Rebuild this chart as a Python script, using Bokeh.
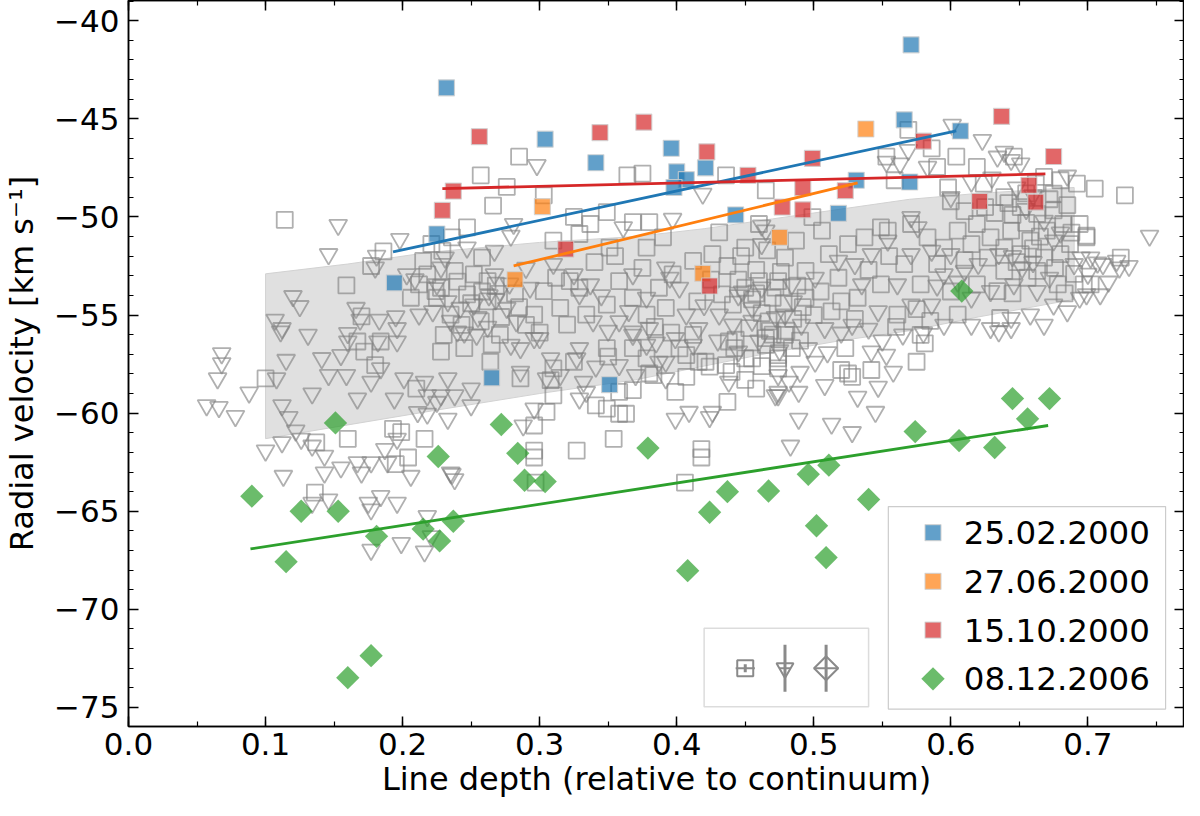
import numpy as np
from bokeh.core.properties import value
from bokeh.plotting import figure
from bokeh.models import (Range1d, LinearAxis, SingleIntervalTicker, CustomJSTickFormatter,
                          BoxAnnotation)
from bokeh.embed import file_html
from bokeh.resources import INLINE

# ---- data ---------------------------------------------------------------
# grey comparison sample: open squares (line depth, RV)
grey_squares = [
    (0.114, -50.15), (0.159, -53.49), (0.186, -51.76), (0.177, -52.5), (0.215, -52.24), (0.221, -51.38),
    (0.218, -52.93), (0.206, -54.12), (0.224, -53.78), (0.212, -53.44), (0.170, -55.07), (0.225, -54.12),
    (0.100, -58.23), (0.137, -61.49), (0.136, -64.05), (0.160, -61.31), (0.193, -60.8), (0.199, -60.97),
    (0.204, -62.26), (0.195, -62.6), (0.216, -61.31), (0.210, -58.75), (0.228, -56.86), (0.184, -56.35),
    (0.172, -56.86), (0.180, -57.55), (0.167, -56.35),
    (0.285, -46.93), (0.257, -47.88), (0.276, -48.47), (0.266, -49.42), (0.303, -48.9), (0.325, -50.0),
    (0.337, -50.36), (0.349, -49.76), (0.364, -47.88), (0.375, -47.79), (0.368, -50.27), (0.380, -50.27),
    (0.390, -51.04), (0.436, -47.88), (0.465, -48.65), (0.431, -50.79), (0.450, -51.56), (0.460, -50.36),
    (0.378, -51.56), (0.351, -51.56), (0.329, -50.87), (0.310, -51.21), (0.247, -50.53), (0.236, -51.04),
    (0.229, -51.73), (0.258, -52.07),
    (0.238, -52.75), (0.252, -52.93), (0.262, -53.27), (0.228, -53.61), (0.247, -53.95), (0.235, -54.98),
    (0.257, -55.32), (0.230, -56.01), (0.245, -56.69), (0.271, -56.01), (0.303, -53.78), (0.296, -54.98),
    (0.315, -54.64), (0.322, -53.27), (0.329, -53.61), (0.320, -55.49), (0.334, -54.98), (0.349, -54.47),
    (0.358, -53.27), (0.368, -54.12), (0.378, -54.98), (0.387, -53.61), (0.392, -54.64), (0.397, -52.93),
    (0.412, -52.24), (0.426, -51.9), (0.433, -53.95), (0.441, -54.47), (0.450, -53.61), (0.460, -53.27),
    (0.470, -54.12), (0.467, -55.32), (0.453, -55.67), (0.438, -56.35), (0.412, -56.01), (0.407, -57.04),
    (0.421, -57.38), (0.436, -57.55), (0.450, -57.21), (0.368, -56.69), (0.378, -57.21), (0.349, -56.69),
    (0.325, -57.38), (0.310, -57.72), (0.264, -57.38), (0.286, -58.23), (0.465, -56.52), (0.474, -57.04),
    (0.308, -58.32), (0.310, -59.09), (0.350, -57.12), (0.358, -58.92), (0.368, -58.83), (0.341, -59.6),
    (0.349, -59.77), (0.358, -60.03), (0.363, -60.03), (0.305, -59.94), (0.296, -60.63), (0.296, -61.91),
    (0.296, -62.26), (0.297, -63.54), (0.327, -61.91), (0.354, -61.31), (0.380, -57.98), (0.383, -58.06),
    (0.399, -58.92), (0.407, -58.15), (0.416, -57.38), (0.424, -57.63), (0.437, -59.43), (0.458, -58.75),
    (0.474, -57.72), (0.455, -57.21), (0.442, -56.69), (0.418, -61.83), (0.418, -62.26), (0.406, -63.54),
    (0.443, -56.26), (0.465, -56.18),
    (0.569, -45.56), (0.586, -46.51), (0.604, -46.93), (0.590, -47.45), (0.619, -47.45), (0.646, -46.93),
    (0.553, -46.93), (0.559, -48.13), (0.705, -48.56), (0.727, -48.9), (0.692, -48.3), (0.680, -48.13),
    (0.675, -48.82), (0.668, -47.96),
    (0.624, -48.3), (0.639, -48.99), (0.651, -49.5), (0.663, -49.84), (0.675, -49.67), (0.682, -50.36),
    (0.670, -50.7), (0.658, -51.21), (0.644, -50.7), (0.629, -51.04), (0.619, -50.36), (0.639, -51.56),
    (0.651, -51.9), (0.668, -52.07), (0.680, -51.9), (0.687, -51.39), (0.699, -51.04), (0.702, -53.44),
    (0.694, -50.36), (0.663, -52.75), (0.639, -52.75), (0.627, -52.07), (0.615, -51.39), (0.605, -50.7),
    (0.595, -51.56), (0.583, -51.04), (0.571, -50.36), (0.554, -50.7), (0.549, -50.53), (0.537, -51.04),
    (0.525, -51.39), (0.506, -50.7), (0.499, -50.01), (0.511, -51.9), (0.487, -51.21), (0.479, -52.07),
    (0.474, -53.27), (0.494, -52.75), (0.518, -53.1), (0.532, -54.12), (0.549, -53.44), (0.566, -52.41),
    (0.578, -53.44), (0.590, -52.41), (0.619, -53.44), (0.634, -53.78), (0.678, -53.44), (0.697, -53.44),
    (0.494, -54.12), (0.513, -54.81), (0.561, -54.98), (0.605, -54.98), (0.636, -55.15),
    (0.699, -50.96), (0.724, -52.07),
    (0.474, -57.21), (0.484, -56.69), (0.520, -57.8), (0.525, -57.98), (0.528, -58.15), (0.542, -57.8),
    (0.575, -57.38), (0.581, -56.44), (0.578, -56.01), (0.523, -56.69), (0.479, -56.01),
    (0.445, -53.2), (0.455, -54.2), (0.462, -54.9), (0.472, -53.6), (0.478, -54.4), (0.485, -55.2),
    (0.468, -55.8), (0.492, -54.6), (0.458, -53.9), (0.488, -53.5), (0.262, -54.3), (0.272, -55.1),
    (0.282, -53.9), (0.268, -53.5), (0.285, -54.6), (0.645, -49.9), (0.655, -50.3), (0.665, -51.0),
    (0.672, -49.1), (0.685, -49.4), (0.660, -51.6), (0.648, -52.3), (0.676, -52.6),
    (0.240, -53.3), (0.250, -54.4), (0.258, -53.8), (0.243, -55.5), (0.265, -56.5), (0.290, -55.5),
    (0.300, -55.9), (0.312, -53.1), (0.340, -52.3), (0.355, -52.0), (0.375, -52.6), (0.384, -55.6),
    (0.396, -55.9), (0.402, -56.7), (0.415, -54.3), (0.425, -53.2), (0.437, -52.5), (0.447, -52.0),
    (0.458, -52.7), (0.466, -51.7), (0.476, -52.8), (0.440, -57.9), (0.450, -58.3), (0.462, -57.6),
    (0.470, -56.0), (0.480, -55.8), (0.490, -56.3), (0.500, -55.0), (0.505, -53.8), (0.520, -54.3),
    (0.530, -55.2), (0.540, -52.7), (0.555, -52.0), (0.560, -55.6), (0.575, -54.7), (0.585, -55.3),
    (0.600, -53.8), (0.610, -52.2), (0.625, -49.5), (0.632, -49.8), (0.642, -49.3), (0.655, -48.8),
    (0.662, -48.3), (0.688, -50.8), (0.690, -52.9), (0.683, -53.9), (0.656, -53.1), (0.645, -53.9),
    (0.610, -49.7), (0.600, -49.2), (0.598, -48.5),
]

# grey comparison sample: open down triangles
grey_triangles = [
    (0.153, -50.41), (0.146, -51.9), (0.198, -51.13), (0.181, -51.98), (0.180, -52.58), (0.120, -54.04),
    (0.125, -54.55), (0.107, -55.24), (0.112, -55.67), (0.166, -54.64), (0.169, -55.24), (0.183, -55.24),
    (0.195, -55.07), (0.203, -52.93), (0.212, -54.98), (0.222, -54.81), (0.209, -53.18), (0.225, -53.44),
    (0.160, -55.92), (0.196, -55.67),
    (0.068, -56.95), (0.068, -57.46), (0.065, -58.23), (0.057, -59.6), (0.066, -59.69), (0.078, -60.15),
    (0.088, -58.95), (0.100, -61.91), (0.108, -58.23), (0.115, -57.29), (0.112, -59.6), (0.117, -60.2),
    (0.122, -60.89), (0.112, -61.49), (0.126, -61.31), (0.134, -59.0), (0.141, -57.2), (0.146, -58.06),
    (0.155, -57.04), (0.159, -58.06), (0.160, -56.35), (0.167, -59.26), (0.177, -58.4), (0.184, -57.72),
    (0.194, -59.26), (0.201, -58.23), (0.211, -59.95), (0.218, -59.09), (0.113, -63.2), (0.134, -61.66),
    (0.143, -62.17), (0.143, -63.03), (0.155, -62.77), (0.167, -62.51), (0.170, -63.03), (0.177, -62.51),
    (0.187, -61.83), (0.189, -62.51), (0.196, -61.31), (0.206, -63.2), (0.184, -64.23), (0.196, -64.57),
    (0.175, -64.57), (0.177, -64.91), (0.146, -64.4), (0.134, -64.57), (0.218, -65.25), (0.221, -66.28),
    (0.199, -66.62), (0.177, -66.97), (0.111, -55.84), (0.131, -56.01), (0.182, -56.35), (0.196, -56.35),
    (0.216, -58.4), (0.225, -59.43), (0.218, -60.03), (0.216, -67.05), (0.236, -63.1),
    (0.298, -47.36), (0.419, -48.82), (0.397, -50.1), (0.281, -50.36), (0.279, -50.96), (0.361, -50.53),
    (0.462, -50.44), (0.231, -52.07), (0.247, -51.56), (0.267, -51.73),
    (0.228, -52.58), (0.233, -54.3), (0.242, -54.64), (0.252, -54.47), (0.240, -55.84), (0.254, -56.01),
    (0.267, -52.93), (0.271, -53.78), (0.276, -54.64), (0.283, -55.32), (0.293, -53.61), (0.286, -56.69),
    (0.300, -56.18), (0.308, -57.21), (0.325, -52.93), (0.329, -53.95), (0.337, -53.44), (0.339, -55.32),
    (0.329, -56.69), (0.368, -52.93), (0.358, -55.32), (0.368, -56.01), (0.378, -54.12), (0.380, -55.67),
    (0.392, -52.58), (0.402, -53.61), (0.407, -54.98), (0.416, -55.67), (0.412, -56.52), (0.431, -54.98),
    (0.441, -55.49), (0.455, -54.64), (0.462, -51.39), (0.465, -50.7), (0.445, -56.86), (0.392, -57.38),
    (0.370, -58.06), (0.332, -58.4), (0.305, -58.23), (0.358, -57.55),
    (0.233, -58.23), (0.228, -59.09), (0.238, -59.09), (0.250, -58.75), (0.250, -59.6), (0.233, -60.29),
    (0.235, -63.03), (0.238, -63.37), (0.286, -57.89), (0.288, -60.63), (0.296, -59.77), (0.315, -58.06),
    (0.329, -59.26), (0.334, -58.92), (0.341, -57.63), (0.327, -57.21), (0.378, -56.52), (0.387, -57.38),
    (0.392, -58.23), (0.399, -60.29), (0.409, -59.94), (0.426, -59.94), (0.424, -60.2), (0.438, -58.4),
    (0.474, -59.09), (0.368, -55.84), (0.399, -56.18), (0.279, -56.52), (0.296, -56.18),
    (0.601, -45.31), (0.623, -46.08), (0.639, -46.68), (0.634, -46.93), (0.644, -47.1), (0.651, -47.28),
    (0.583, -47.45), (0.569, -46.59), (0.553, -47.19), (0.563, -47.28), (0.600, -48.99), (0.571, -50.01),
    (0.576, -50.53),
    (0.554, -51.21), (0.571, -51.9), (0.586, -51.73), (0.600, -51.9), (0.610, -52.75), (0.595, -52.93),
    (0.615, -54.12), (0.629, -53.78), (0.646, -53.44), (0.663, -53.78), (0.675, -54.47), (0.685, -54.81),
    (0.690, -52.41), (0.702, -52.07), (0.711, -52.41), (0.721, -52.24), (0.694, -54.12), (0.709, -53.95),
    (0.542, -51.9), (0.530, -52.41), (0.518, -52.24), (0.501, -53.1), (0.484, -53.44), (0.561, -53.44),
    (0.535, -53.44), (0.547, -54.81), (0.571, -54.47), (0.586, -54.47), (0.595, -55.5), (0.615, -55.5),
    (0.629, -55.67), (0.644, -55.15), (0.658, -54.98), (0.668, -55.5), (0.508, -55.67), (0.528, -55.5),
    (0.479, -54.98), (0.491, -55.5),
    (0.745, -50.96), (0.723, -52.58), (0.707, -52.33), (0.699, -53.95), (0.695, -52.07),
    (0.474, -58.06), (0.482, -58.4), (0.474, -58.92), (0.489, -58.92), (0.501, -57.38), (0.508, -58.57),
    (0.496, -56.69), (0.489, -60.29), (0.483, -61.66), (0.513, -60.54), (0.528, -60.97), (0.532, -59.17),
    (0.545, -59.94), (0.547, -58.66), (0.553, -57.03), (0.558, -57.89), (0.542, -56.86), (0.635, -55.84),
    (0.644, -55.67), (0.472, -59.09),
    (0.448, -53.8), (0.462, -53.6), (0.472, -55.1), (0.485, -54.3), (0.455, -55.3), (0.268, -54.2),
    (0.278, -53.4), (0.262, -55.6), (0.655, -49.6), (0.668, -50.2), (0.652, -52.6), (0.672, -53.1),
    (0.235, -55.3), (0.245, -55.9), (0.255, -55.1), (0.263, -54.0), (0.290, -52.6), (0.310, -52.4),
    (0.345, -54.0), (0.350, -55.8), (0.365, -54.8), (0.385, -56.4), (0.395, -53.1), (0.420, -54.5),
    (0.430, -56.3), (0.445, -54.0), (0.460, -56.3), (0.475, -56.8), (0.490, -57.9), (0.510, -56.9),
    (0.520, -55.9), (0.540, -55.7), (0.550, -56.3), (0.565, -56.0), (0.580, -55.9), (0.590, -53.5),
    (0.605, -53.3), (0.620, -52.4), (0.635, -51.9), (0.645, -52.0), (0.660, -52.3), (0.675, -51.2),
    (0.680, -50.8), (0.660, -48.9), (0.648, -48.5), (0.630, -48.0), (0.615, -48.2), (0.685, -47.9),
    (0.700, -52.9), (0.715, -53.3), (0.730, -52.5),
]

# shaded band of the comparison sample
band_x = [0.10, 0.16, 0.22, 0.30, 0.37, 0.42, 0.47, 0.52, 0.57, 0.62, 0.69]
band_upper = [-52.9, -52.4, -51.8, -51.3, -51.0, -50.6, -50.1, -49.6, -49.1, -48.8, -48.5]
band_lower = [-61.3, -60.6, -59.9, -59.0, -58.3, -57.6, -56.9, -56.3, -55.8, -55.1, -54.2]

# 25.02.2000
feb00_x = [0.232, 0.304, 0.225, 0.194, 0.265, 0.571, 0.341, 0.396, 0.400, 0.407, 0.398, 0.421,
           0.566, 0.607, 0.531, 0.570, 0.443, 0.518, 0.351]
feb00_y = [-43.42, -46.04, -50.87, -53.36, -58.2, -41.23, -47.24, -46.5, -47.7, -48.1, -48.5, -47.5,
           -45.05, -45.62, -48.13, -48.22, -49.9, -49.82, -58.55]
# 27.06.2000
jun00_x = [0.302, 0.282, 0.538, 0.475, 0.419]
jun00_y = [-49.47, -53.2, -45.52, -51.04, -52.88]
# 15.10.2000
oct00_x = [0.256, 0.237, 0.229, 0.319, 0.344, 0.376, 0.422, 0.499, 0.452, 0.492, 0.523, 0.477, 0.492,
           0.580, 0.637, 0.675, 0.657, 0.662, 0.621, 0.424]
oct00_y = [-45.91, -48.68, -49.67, -51.64, -45.7, -45.17, -46.68, -47.02, -47.88, -48.51, -48.66, -49.5,
           -49.64, -46.14, -44.88, -46.92, -48.39, -49.25, -49.21, -53.52]
# 08.12.2006
dec06_x = [0.090, 0.115, 0.126, 0.151, 0.153, 0.160, 0.177, 0.181, 0.215, 0.226, 0.227, 0.237, 0.272,
           0.284, 0.289, 0.304, 0.379, 0.408, 0.424, 0.437, 0.467, 0.496, 0.511, 0.502, 0.509, 0.540,
           0.574, 0.606, 0.632, 0.656, 0.645, 0.672, 0.608]
dec06_y = [-64.23, -67.57, -65.0, -60.5, -65.0, -73.48, -72.36, -66.28, -65.91, -62.21, -66.51, -65.51,
           -60.58, -62.05, -63.42, -63.49, -61.78, -68.03, -65.05, -64.0, -63.97, -63.12, -62.65, -65.74,
           -67.36, -64.4, -60.94, -61.4, -61.75, -60.29, -59.26, -59.26, -53.78]

# linear fits (end points)
fit_feb00_x, fit_feb00_y = [0.193, 0.604], [-51.78, -45.62]
fit_jun00_x, fit_jun00_y = [0.281, 0.532], [-52.5, -48.27]
fit_oct00_x, fit_oct00_y = [0.229, 0.669], [-48.56, -47.81]
fit_dec06_x, fit_dec06_y = [0.089, 0.671], [-66.92, -60.63]

# typical error bars shown in the inset
err_x = [0.450, 0.479, 0.509]
err_y = [-73.0, -73.0, -73.0]
err_dx = [0.007, 0.004, 0.009]
err_dy = [0.2, 1.2, 1.2]

legend_labels = ["25.02.2000", "27.06.2000", "15.10.2000", "08.12.2006"]

# ---- figure ---------------------------------------------------------------
FONT = "DejaVu Sans"
GREY = "#8a8a8a"
BLUE, ORANGE, RED, GREEN = "#1f77b4", "#ff7f0e", "#d62728", "#2ca02c"

p = figure(width=1184, height=800, output_backend="svg", toolbar_location=None,
           x_range=Range1d(0.0, 0.7705), y_range=Range1d(-75.97, -38.97),
           x_axis_label="Line depth (relative to continuum)",
           y_axis_label="Radial velocity [km s\u207b\u00b9]",
           min_border_left=124, min_border_right=0, min_border_top=0, min_border_bottom=0)
p.grid.visible = False
p.outline_line_color = "black"
p.outline_line_width = 1.5

xax, yax = p.below[0], p.left[0]
xtick = dict(interval=0.1, num_minor_ticks=2)
ytick = dict(interval=5, num_minor_ticks=5)
xax.ticker = SingleIntervalTicker(**xtick)
yax.ticker = SingleIntervalTicker(**ytick)
xax.formatter = CustomJSTickFormatter(code="return tick.toFixed(1)")
yax.formatter = CustomJSTickFormatter(
    code="return (tick < 0 ? '\\u2212' : '') + Math.abs(tick).toFixed(0)")

top = LinearAxis(ticker=SingleIntervalTicker(**xtick),
                 formatter=CustomJSTickFormatter(code="return ''"))
right = LinearAxis(ticker=SingleIntervalTicker(**ytick),
                   formatter=CustomJSTickFormatter(code="return ''"))
p.add_layout(top, "above")
p.add_layout(right, "right")

for ax in [xax, yax, top, right]:
    ax.major_tick_in = 10
    ax.major_tick_out = 0
    ax.minor_tick_in = 5
    ax.minor_tick_out = 0
    ax.axis_line_color = "black"
    ax.axis_line_width = 1.5
    ax.major_tick_line_width = 1.5
    ax.minor_tick_line_width = 1.2
    ax.major_label_text_font = FONT
    ax.major_label_text_font_size = "31px"
    ax.major_label_text_color = "black"
    ax.axis_label_text_font = FONT
    ax.axis_label_text_font_size = "32px"
    ax.axis_label_text_font_style = "normal"
    ax.axis_label_text_color = "black"
for ax in [top, right]:
    ax.major_label_text_font_size = "0px"
    ax.major_label_standoff = 0
xax.major_label_standoff = 6
xax.axis_label_standoff = 2
yax.major_label_standoff = 9
yax.axis_label_standoff = 10

# band
p.patch(band_x + band_x[::-1], band_upper + band_lower[::-1],
        fill_color="#e0e0e0", line_color="#d2d2d2", line_width=1)

# comparison sample
sq_x, sq_y = zip(*grey_squares)
tr_x, tr_y = zip(*grey_triangles)
p.scatter(list(tr_x), list(tr_y), marker="inverted_triangle", size=18, fill_color=None,
          line_color="#808080", line_alpha=0.62, line_width=1.8)
p.scatter(list(sq_x), list(sq_y), marker="square", size=16, fill_color=None,
          line_color="#808080", line_alpha=0.62, line_width=1.8)

# individual epochs
sq_style = dict(marker="square", size=16, fill_alpha=0.7, line_color="#d0d0d0",
                line_alpha=0.8, line_width=1.2)
dia_style = dict(marker="square", angle=np.pi / 4, size=16.5, fill_alpha=0.7, line_color=None)
p.scatter(feb00_x, feb00_y, fill_color=BLUE, **sq_style)
p.scatter(jun00_x, jun00_y, fill_color=ORANGE, **sq_style)
p.scatter(oct00_x, oct00_y, fill_color=RED, **sq_style)
p.scatter(dec06_x, dec06_y, fill_color=GREEN, **dia_style)

p.line(fit_feb00_x, fit_feb00_y, line_color=BLUE, line_width=2.8)
p.line(fit_jun00_x, fit_jun00_y, line_color=ORANGE, line_width=2.8)
p.line(fit_oct00_x, fit_oct00_y, line_color=RED, line_width=2.8)
p.line(fit_dec06_x, fit_dec06_y, line_color=GREEN, line_width=2.8)

# inset with typical errors
p.add_layout(BoxAnnotation(left=0.42, right=0.54, bottom=-74.96, top=-70.96,
                           fill_color=None, line_color=GREY, line_width=1.5))
ex, ey = np.array(err_x), np.array(err_y)
edx, edy = np.array(err_dx), np.array(err_dy)
p.segment(ex, ey - edy, ex, ey + edy, line_color=GREY, line_width=3)
p.segment(ex - edx, ey, ex + edx, ey, line_color=GREY, line_width=2)
p.scatter(ex[:1], ey[:1], marker="square", size=16, fill_color=None, line_color=GREY, line_width=2)
p.scatter(ex[1:2], ey[1:2], marker="inverted_triangle", size=17, fill_color=None,
          line_color=GREY, line_width=2)
p.scatter(ex[2:], ey[2:], marker="square", angle=np.pi / 4, size=17, fill_color=None,
          line_color=GREY, line_width=2)

# legend box (drawn by hand so the last entry keeps its diamond)
leg_left, leg_right, leg_bottom, leg_top = 0.5544, 0.7567, -75.08, -64.76
leg_rows = np.linspace(-66.09, -73.54, len(legend_labels))
p.quad(left=[leg_left], right=[leg_right], bottom=[leg_bottom], top=[leg_top],
       fill_color="white", fill_alpha=0.85, line_color="#cccccc", line_width=1.2)
marker_x = [0.587]
p.scatter(marker_x, leg_rows[:1], fill_color=BLUE, **sq_style)
p.scatter(marker_x, leg_rows[1:2], fill_color=ORANGE, **sq_style)
p.scatter(marker_x, leg_rows[2:3], fill_color=RED, **sq_style)
p.scatter(marker_x, leg_rows[3:], fill_color=GREEN, **dia_style)
p.text(x=[0.6095] * len(legend_labels), y=list(leg_rows), text=legend_labels,
       text_font=value(FONT), text_font_size=value("32.5px"), text_baseline="middle",
       text_align="left", text_color="black")

open("out.html", "w").write(file_html(p, INLINE))
